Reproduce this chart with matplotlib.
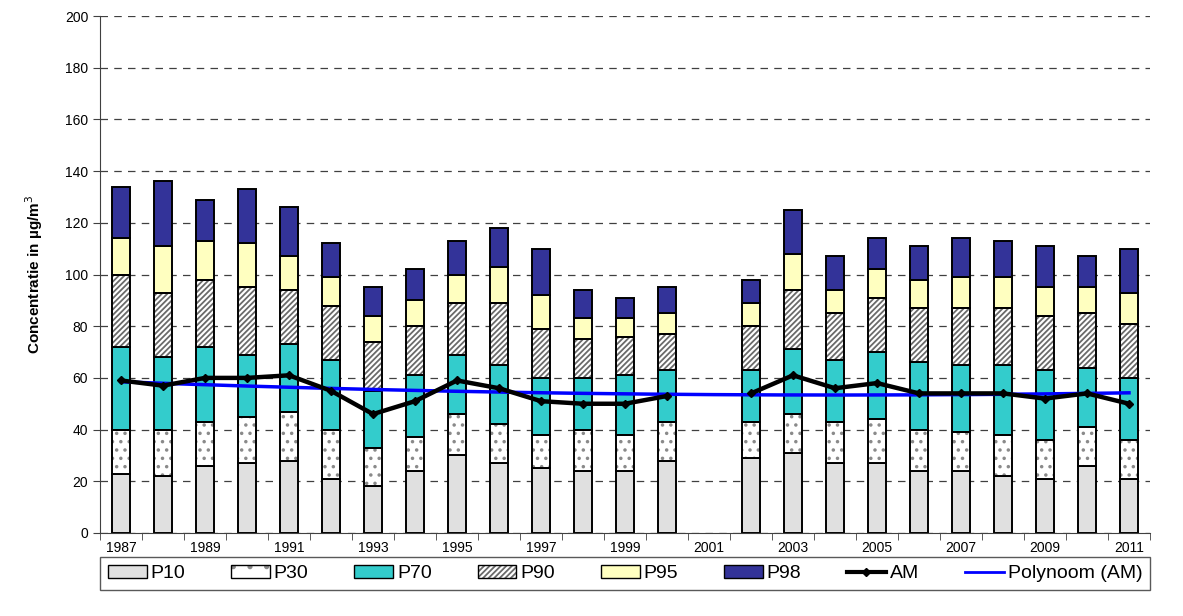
import numpy as np
import matplotlib
matplotlib.use("Agg")
import matplotlib.pyplot as plt
from matplotlib.patches import Patch
from matplotlib.lines import Line2D

plt.rcParams['font.family'] = ['Liberation Sans', 'DejaVu Sans']
plt.rcParams['hatch.linewidth'] = 1.3

years = list(range(1987, 2012))
p10 = [23, 22, 26, 27, 28, 21, 18, 24, 30, 27, 25, 24, 24, 28, np.nan, 29, 31, 27, 27, 24, 24, 22, 21, 26, 21]
p30 = [40, 40, 43, 45, 47, 40, 33, 37, 46, 42, 38, 40, 38, 43, np.nan, 43, 46, 43, 44, 40, 39, 38, 36, 41, 36]
p70 = [72, 68, 72, 69, 73, 67, 55, 61, 69, 65, 60, 60, 61, 63, np.nan, 63, 71, 67, 70, 66, 65, 65, 63, 64, 60]
p90 = [100, 93, 98, 95, 94, 88, 74, 80, 89, 89, 79, 75, 76, 77, np.nan, 80, 94, 85, 91, 87, 87, 87, 84, 85, 81]
p95 = [114, 111, 113, 112, 107, 99, 84, 90, 100, 103, 92, 83, 83, 85, np.nan, 89, 108, 94, 102, 98, 99, 99, 95, 95, 93]
p98 = [134, 136, 129, 133, 126, 112, 95, 102, 113, 118, 110, 94, 91, 95, np.nan, 98, 125, 107, 114, 111, 114, 113, 111, 107, 110]
am = [59, 57, 60, 60, 61, 55, 46, 51, 59, 56, 51, 50, 50, 53, np.nan, 54, 61, 56, 58, 54, 54, 54, 52, 54, 50]
year_labels = [str(y) if (y - 1987) % 2 == 0 else "" for y in years]

fig = plt.figure(figsize=(11.83, 6.16), dpi=100)
W, H = 1183, 616
L, R, T, B = 100, 1150, 16, 533
ax = fig.add_axes([L / W, (H - B) / H, (R - L) / W, (B - T) / H])

x = np.arange(len(years))
bw = 0.43
series = [
    ("P10", p10, "#E0E0E0", None, None),
    ("P30", p30, "white", "..", "#8A8A8A"),
    ("P70", p70, "#33CCCC", None, None),
    ("P90", p90, "white", "//////", "#6A6A6A"),
    ("P95", p95, "#FFFFC0", None, None),
    ("P98", p98, "#333399", None, None),
]
prev = np.zeros(len(years))
for name, vals, col, hatch, hcol in series:
    v = np.array(vals, dtype=float)
    h = v - prev
    if hatch is None:
        ax.bar(x, h, bw, bottom=prev, color=col, edgecolor="black", linewidth=1.4, zorder=2)
    else:
        ax.bar(x, h, bw, bottom=prev, color=col, edgecolor=hcol, linewidth=0, hatch=hatch, zorder=2)
        ax.bar(x, h, bw, bottom=prev, fill=False, edgecolor="black", linewidth=1.4, zorder=2.1)
    prev = v

amv = np.array(am, dtype=float)
ax.plot(x, amv, color="black", lw=3.2, marker="D", ms=4, zorder=4)
mask = ~np.isnan(amv)
coef = np.polyfit(x[mask], amv[mask], 2)
xs = np.linspace(0, len(years) - 1, 200)
ax.plot(xs, np.polyval(coef, xs), color="#0000FF", lw=2.5, zorder=3)

ax.set_xlim(-0.5, len(years) - 0.5)
ax.set_ylim(0, 200)
ax.set_yticks(np.arange(0, 201, 20))
ax.yaxis.grid(True, linestyle=(0, (6, 5)), color="#404040", lw=0.9)
ax.set_axisbelow(True)
ax.set_xticks(x)
ax.set_xticklabels(year_labels)
ax.set_xticks(np.arange(-0.5, len(years), 1), minor=True)
ax.tick_params(axis="x", which="major", length=0, labelsize=10, pad=6)
ax.tick_params(axis="x", which="minor", length=5, direction="out", color="#404040")
ax.tick_params(axis="y", length=5, direction="out", labelsize=10, color="#404040")
for s in ["top", "right"]:
    ax.spines[s].set_visible(False)
for s in ["left", "bottom"]:
    ax.spines[s].set_color("#404040")
ax.set_ylabel("Concentratie in µg/m$^3$", fontsize=11, fontweight="bold", labelpad=14)

def hatched(hatch, hcol):
    return (Patch(facecolor="white", edgecolor=hcol, linewidth=0, hatch=hatch),
            Patch(fill=False, edgecolor="black", linewidth=1))

handles = [
    Patch(facecolor="#E0E0E0", edgecolor="black"),
    hatched(".", "#8A8A8A"),
    Patch(facecolor="#33CCCC", edgecolor="black"),
    hatched("//////", "#6A6A6A"),
    Patch(facecolor="#FFFFC0", edgecolor="black"),
    Patch(facecolor="#333399", edgecolor="black"),
    Line2D([], [], color="black", lw=3, marker="D", ms=4),
    Line2D([], [], color="#0000FF", lw=2),
]
labels = ["P10", "P30", "P70", "P90", "P95", "P98", "AM", "Polynoom (AM)"]
leg = fig.legend(handles, labels, loc="center",
                 bbox_to_anchor=(L / W, (H - 591) / H, (R - L) / W, 35 / H),
                 mode="expand", ncol=8, fontsize=14, frameon=True, fancybox=False,
                 edgecolor="#303030", borderaxespad=0, handlelength=2.0, handletextpad=0.2,
                 columnspacing=1.0)
leg.get_frame().set_linewidth(1)

fig.savefig("out.png", dpi=100)
